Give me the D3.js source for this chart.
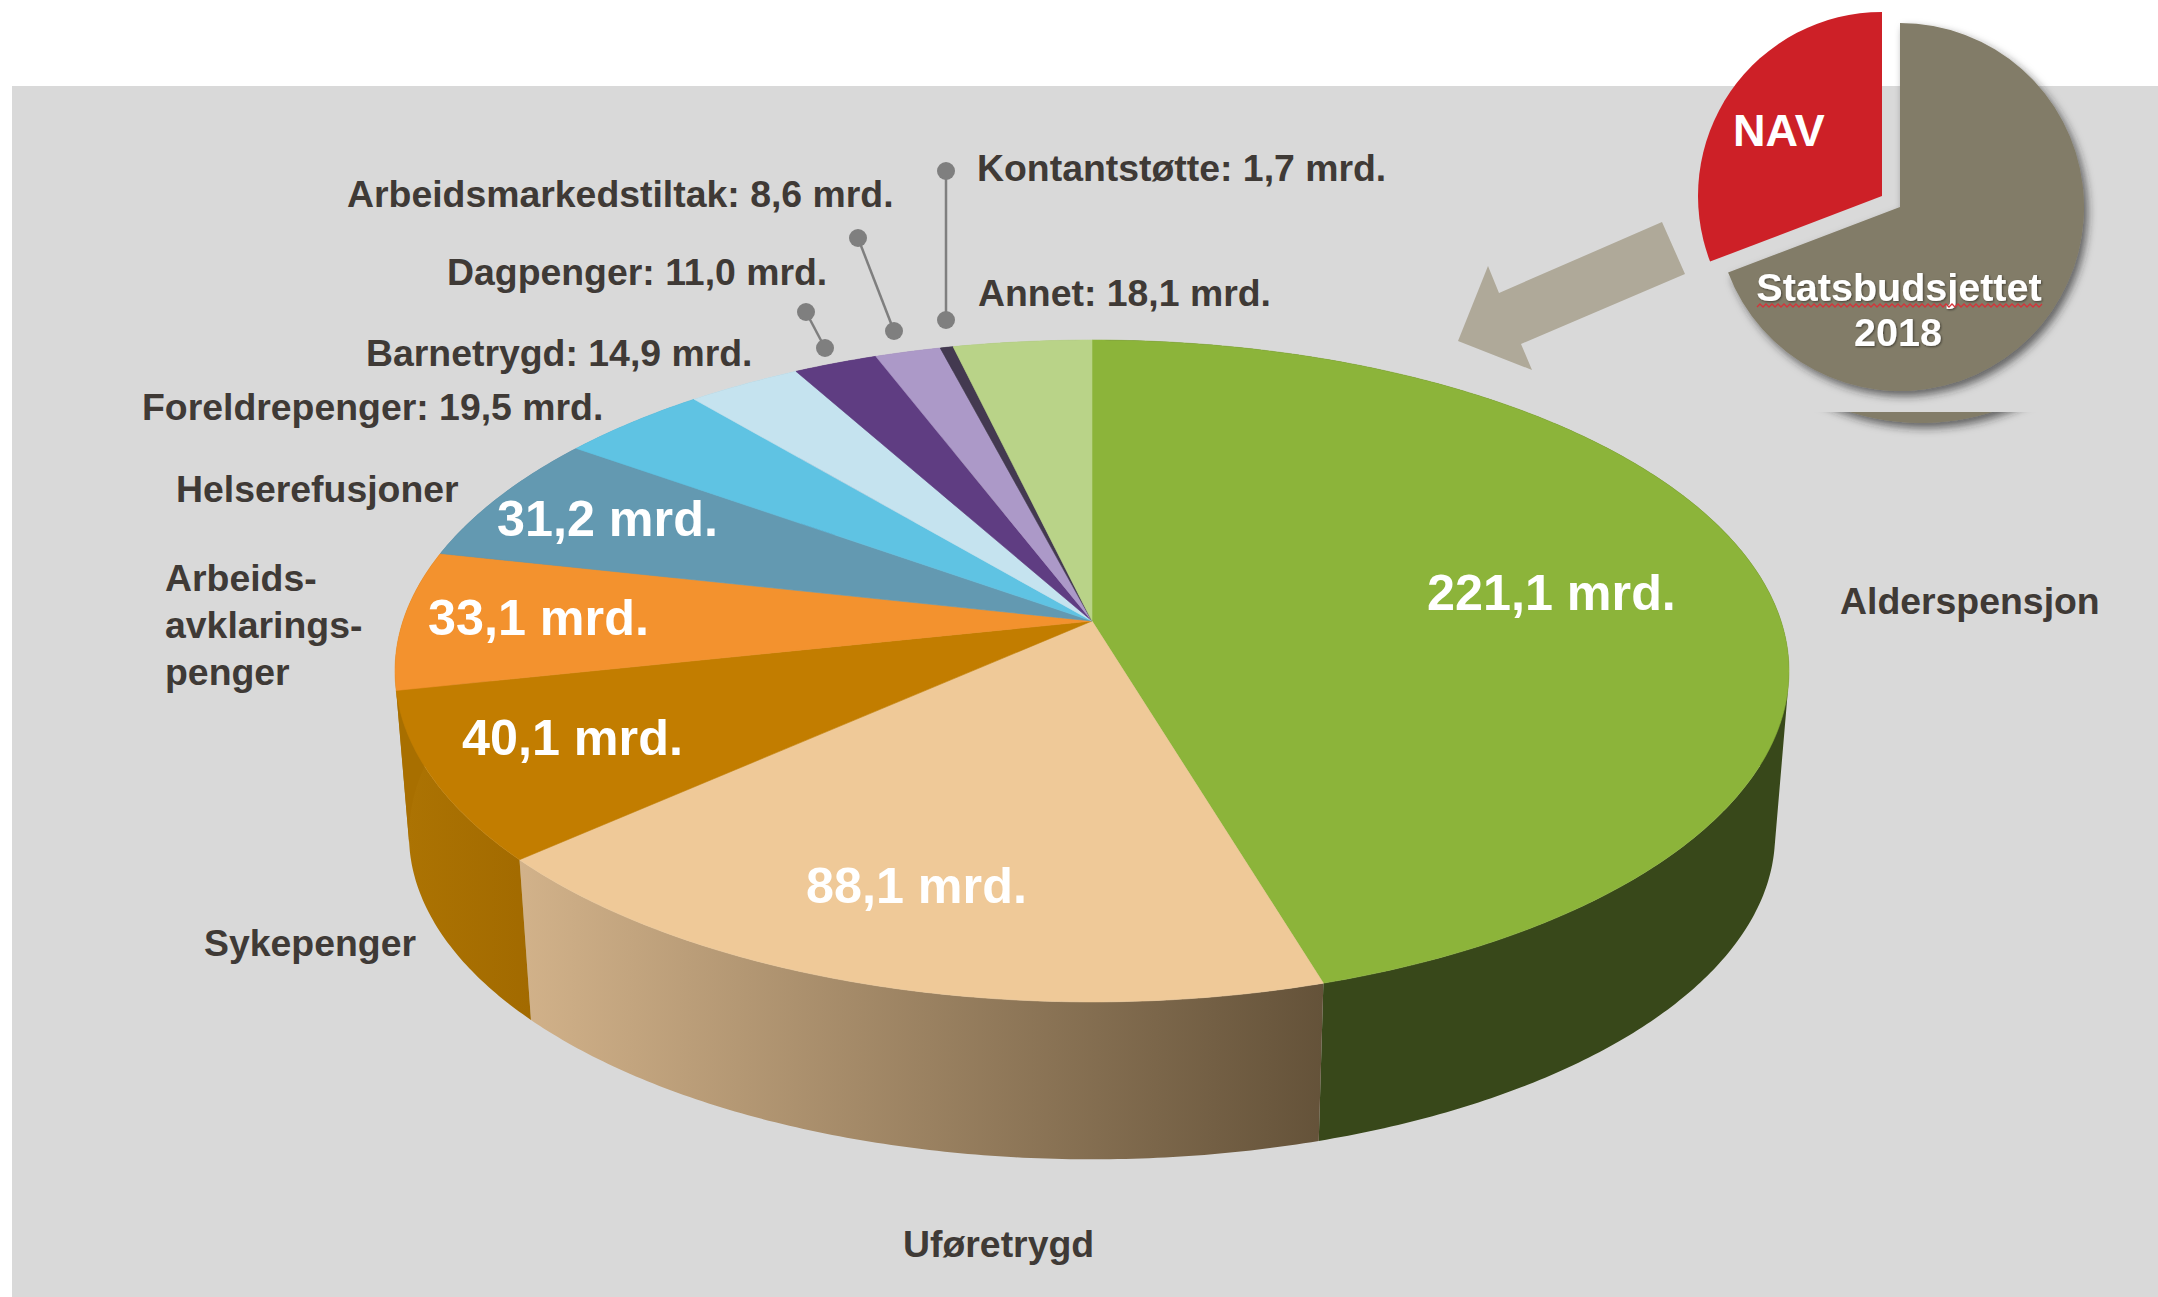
<!DOCTYPE html>
<html>
<head>
<meta charset="utf-8">
<script src="https://cdn.jsdelivr.net/npm/d3@7"></script>
<style>
    body { margin: 0; background: #fff; }
    text { font-family: "Liberation Sans", Arial, sans-serif; font-weight: bold; }
</style>
</head>
<body>
<svg id="chart" width="2158" height="1297"></svg>
<script>
// clockwise from 12 o'clock, mrd. kroner
const categories = ['Alderspensjon', 'Uføretrygd', 'Sykepenger', 'Arbeidsavklaringspenger', 'Helserefusjoner',
    'Foreldrepenger', 'Barnetrygd', 'Dagpenger', 'Arbeidsmarkedstiltak', 'Kontantstøtte', 'Annet'];
const values = [221.1, 88.1, 40.1, 33.1, 31.2, 19.5, 14.9, 11.0, 8.6, 1.7, 18.1];
const topColors = ['#8cb43a', '#efc998', '#c27d00', '#f3922e', '#6399b1', '#5fc3e3', '#c5e3ef', '#5f3d82', '#ac99c8', '#433950', '#b9d388'];
const sideColors = ['#38481a', 'url(#uforeSide)', 'url(#sykeSide)', '#a86f00', '#4d7a8e', '#4a9cb6', '#9db6bf', '#4a2f66', '#8a7aa0', '#352d40', '#94a96d'];

// small pie: statsbudsjettet, share of the circle
const budgetNames = ['Statsbudsjettet', 'NAV'];
const budgetShares = [69.2, 30.8];

// labels, one row per text: [ lines, x, baseline ]
const outerLabels = [
    [['Kontantstøtte: 1,7 mrd.'], 977, 181],
    [['Annet: 18,1 mrd.'], 978, 306],
    [['Arbeidsmarkedstiltak: 8,6 mrd.'], 347, 207],
    [['Dagpenger: 11,0 mrd.'], 447, 285],
    [['Barnetrygd: 14,9 mrd.'], 366, 366],
    [['Foreldrepenger: 19,5 mrd.'], 142, 420],
    [['Helserefusjoner'], 176, 502],
    [['Arbeids-', 'avklarings-', 'penger'], 165, 591],
    [['Sykepenger'], 204, 956],
    [['Uføretrygd'], 903, 1257],
    [['Alderspensjon'], 1840, 614]
];
// value labels inside the slices: [ category index, x, baseline ]
const insideLabels = [[0, 1427, 610], [1, 806, 903], [2, 462, 755], [3, 428, 635], [4, 497, 536]];

// leader lines [ x1, y1, x2, y2 ]
const leaders = [[946, 171, 946, 320], [858, 238, 894, 331], [806, 312, 825, 348]];

const svg = d3.select("#chart");
const defs = svg.append("defs");

function addGradient(id, x1, x2, from, to) {
    const g = defs.append("linearGradient").attr("id", id)
        .attr("gradientUnits", "userSpaceOnUse")
        .attr("x1", x1).attr("x2", x2).attr("y1", 0).attr("y2", 0);
    g.append("stop").attr("offset", 0).attr("stop-color", from);
    g.append("stop").attr("offset", 1).attr("stop-color", to);
}
addGradient("uforeSide", 519, 1324, "#d2b28a", "#645239");
addGradient("sykeSide", 395, 531, "#ad7403", "#a26a00");

const shadow = defs.append("filter").attr("id", "shadow")
    .attr("x", "-20%").attr("y", "-20%").attr("width", "140%").attr("height", "140%");
shadow.append("feDropShadow").attr("dx", 4).attr("dy", 5).attr("stdDeviation", 4)
    .attr("flood-color", "#222").attr("flood-opacity", 0.65);

const textShadow = defs.append("filter").attr("id", "textShadow");
textShadow.append("feDropShadow").attr("dx", 1).attr("dy", 1).attr("stdDeviation", 1)
    .attr("flood-color", "#000").attr("flood-opacity", 0.5);

defs.append("clipPath").attr("id", "lensClip")
    .append("rect").attr("x", 1780).attr("y", 412).attr("width", 300).attr("height", 40);

// grey backdrop
svg.append("rect").attr("x", 12).attr("y", 86).attr("width", 2146).attr("height", 1211).attr("fill", "#d9d9d9");

// --- big pie, a flat disc seen in perspective ---
const cx = 1092, cy = 621;
const spreadX = 689, spreadY = 323.4, tilt = 0.151;
const depth = 165, bottomScale = 0.98;

function project(angle, level) {
    // level 0 = top face, 1 = bottom face
    const u = Math.sin(angle), v = -Math.cos(angle);
    const w = 1 - tilt * v;
    const s = level ? bottomScale : 1;
    return [cx + s * spreadX * u / w, cy + (level ? depth : 0) + s * spreadY * v / w];
}

function sampleArc(a0, a1, level) {
    const steps = Math.max(2, Math.ceil((a1 - a0) / 0.01));
    return d3.range(steps + 1).map(i => project(a0 + (a1 - a0) * i / steps, level));
}

const pie = d3.pie().sort(null);
const slices = pie(values);
const line = d3.line();

// the wall is one path of thin strips, a plain outline would leave out the
// part between the two discs at the far left and right.
// All strips wound the same way so that nothing cancels out
const sides = svg.append("g");
slices.forEach((d, i) => {
    const upper = sampleArc(d.startAngle, d.endAngle, 0);
    const lower = sampleArc(d.startAngle, d.endAngle, 1);
    let wall = "";
    d3.range(upper.length - 1).forEach(k => {
        const quad = [upper[k], upper[k + 1], lower[k + 1], lower[k]];
        if (d3.polygonArea(quad) < 0) quad.reverse();
        wall += line(quad) + "Z";
    });
    sides.append("path")
        .attr("d", wall)
        .attr("fill", sideColors[i]);
});

const tops = svg.append("g");
slices.forEach((d, i) => {
    const pts = [[cx, cy]].concat(sampleArc(d.startAngle, d.endAngle, 0));
    tops.append("path")
        .attr("d", line(pts) + "Z")
        .attr("id", "slice" + i)
        .attr("fill", topColors[i])
        .attr("stroke", topColors[i])
        .attr("stroke-width", 0.6);
});

// --- arrow ---
const arrowPoints = [[1662, 222], [1685, 274], [1521, 344], [1532, 370], [1458, 341], [1488, 266], [1499, 293]];
svg.append("path").attr("d", line(arrowPoints) + "Z").attr("fill", "#afa999");

// --- small pie ---
const smallPie = d3.pie().sort(null)(budgetShares);
const smallArc = d3.arc().innerRadius(0).outerRadius(184);

// stray bit of the circle below it, as in the original slide
svg.append("g").attr("clip-path", "url(#lensClip)")
    .append("circle").attr("cx", 1921).attr("cy", 189).attr("r", 234)
    .attr("fill", "#827c67").attr("filter", "url(#shadow)");

svg.append("path")
    .attr("d", smallArc(smallPie[0]))
    .attr("transform", "translate(1900,207)")
    .attr("fill", "#827c67")
    .attr("filter", "url(#shadow)");
svg.append("path")
    .attr("d", smallArc(smallPie[1]))
    .attr("transform", "translate(1882,196)")
    .attr("fill", "#cd2027");

// --- leaders ---
const leader = svg.append("g");
leaders.forEach(l => {
    leader.append("line")
        .attr("x1", l[0]).attr("y1", l[1]).attr("x2", l[2]).attr("y2", l[3])
        .attr("stroke", "#7f7f7f").attr("stroke-width", 2.5);
    leader.append("circle").attr("cx", l[0]).attr("cy", l[1]).attr("r", 9).attr("fill", "#7f7f7f");
    leader.append("circle").attr("cx", l[2]).attr("cy", l[3]).attr("r", 9).attr("fill", "#7f7f7f");
});

// --- texts ---
const labelSize = 37.4;
outerLabels.forEach(d => {
    d[0].forEach((t, i) => {
        svg.append("text")
            .attr("x", d[1]).attr("y", d[2] + i * 47)
            .attr("fill", "#3f3a36")
            .attr("font-size", labelSize)
            .text(t);
    });
});

const formatValue = v => v.toFixed(1).replace(".", ",") + " mrd.";
insideLabels.forEach(d => {
    svg.append("text")
        .attr("x", d[1]).attr("y", d[2])
        .attr("fill", "#fff")
        .attr("font-size", 50.3)
        .text(formatValue(values[d[0]]));
});

svg.append("text").attr("x", 1733).attr("y", 146).attr("fill", "#fff").attr("font-size", 45).text(budgetNames[1]);
svg.append("text").attr("x", 1899).attr("y", 301).attr("fill", "#fff").attr("font-size", 39.5)
    .attr("text-anchor", "middle").attr("filter", "url(#textShadow)").text(budgetNames[0]);
svg.append("text").attr("x", 1898).attr("y", 346).attr("fill", "#fff").attr("font-size", 39.5)
    .attr("text-anchor", "middle").attr("filter", "url(#textShadow)").text("2018");

// spell checker squiggle under the word
const squiggle = d3.range(1757, 2044, 3).map((x, i) => [x, i % 2 ? 304 : 307]);
svg.append("path").attr("d", line(squiggle)).attr("fill", "none").attr("stroke", "#d4343a").attr("stroke-width", 1.3);
</script>
</body>
</html>
